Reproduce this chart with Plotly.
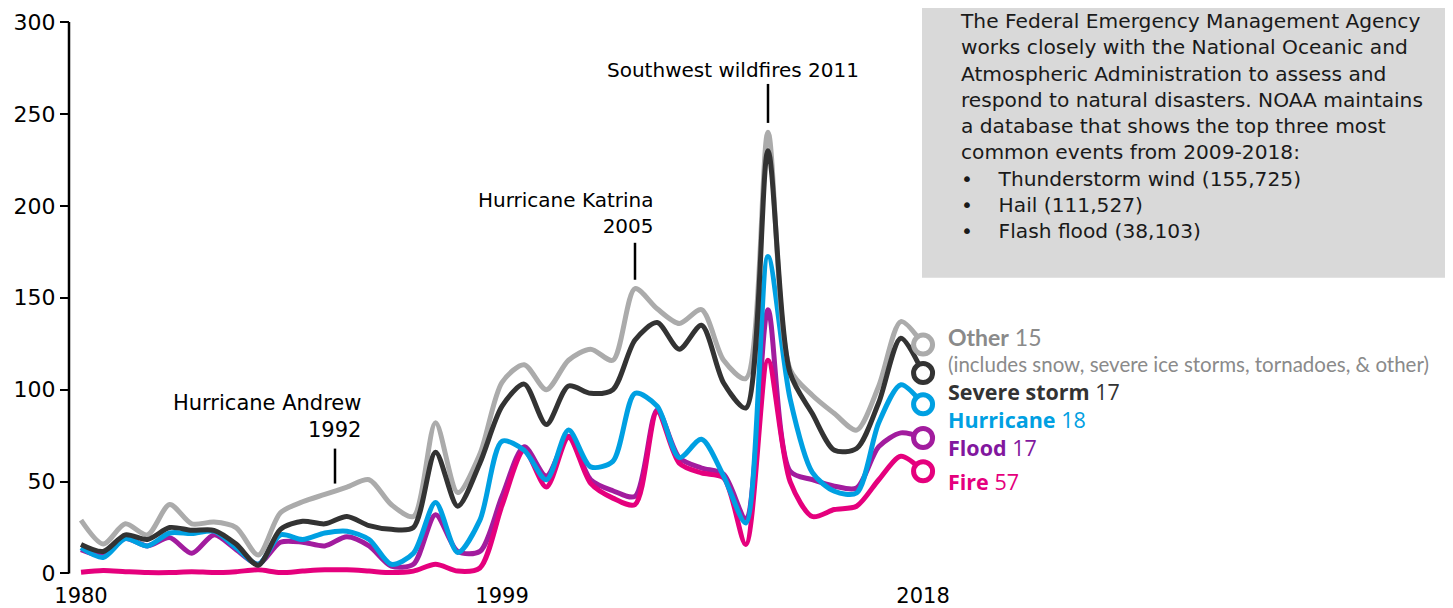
import plotly.graph_objects as go

years = list(range(1980, 2019))

other = [29, 16, 27, 21, 37.5, 27, 28, 25, 10, 33, 39, 43, 47, 51, 37.5, 31, 82, 44, 65, 104,
         113.6, 100, 116, 122, 116, 155, 144, 136, 143.5, 116, 106, 240, 111, 97, 87, 78, 102, 137, 124.5]
severe = [15.8, 12, 21, 18.5, 25, 23.5, 23.5, 16, 4.5, 24, 28.4, 27, 31, 26, 24, 25, 66, 36.6, 60, 91,
          103, 81, 102, 98, 100, 127, 136.5, 122, 135, 103.6, 90, 230, 109, 87, 67, 68, 93, 128, 109]
hurricane = [14, 8.7, 19, 15, 22, 21.7, 23, 14, 5, 21, 18.5, 22, 23, 18.5, 5, 11, 38.6, 11.4, 29, 72,
             67, 51, 78, 58, 61, 98, 91, 63, 73, 53, 27.5, 172.5, 95, 55, 44.7, 43.8, 82, 102.7, 92]
flood = [13, 10, 19, 15, 19.5, 11, 21, 13, 5, 17, 17, 15, 20, 15, 4, 5, 32, 12, 12, 42,
         69, 53, 74.6, 51, 45, 42, 89, 63, 57.4, 54, 30, 143.5, 55.6, 51, 47.5, 46.5, 69, 76.5, 73.7]
fire = [0.7, 1.6, 1, 0.5, 0.5, 1, 0.5, 1, 2, 0.5, 1.3, 2, 2, 1.3, 0.5, 1.3, 5, 1.3, 3, 37,
        67, 47, 74, 49, 41, 37.5, 88, 60, 54.7, 52, 15.8, 116, 50, 31, 34.8, 36.6, 51, 63.8, 55.6]

y_ticks = [0, 50, 100, 150, 200, 250, 300]
x_ticks = [1980, 1999, 2018]

GRAY = "#ABABAB"
DARK = "#333333"
BLUE = "#00A0E2"
PURPLE = "#A21C9E"
PINK = "#E5007D"

legend_items = [
    ("Severe storm", "17", "#333333"),
    ("Hurricane", "18", "#00A0E2"),
    ("Flood", "17", "#82179E"),
    ("Fire", "57", "#E5007D"),
]
other_label = ("Other", "15", "(includes snow, severe ice storms, tornadoes, &amp; other)", "#8A8A8A")

box_lines = [
    "The Federal Emergency Management Agency",
    "works closely with the National Oceanic and",
    "Atmospheric Administration to assess and",
    "respond to natural disasters. NOAA maintains",
    "a database that shows the top three most",
    "common events from 2009-2018:",
]
box_bullets = ["Thunderstorm wind (155,725)", "Hail (111,527)", "Flash flood (38,103)"]

fig = go.Figure()

draw_order = [(flood, PURPLE), (fire, PINK), (hurricane, BLUE), (other, GRAY), (severe, DARK)]
for vals, col in draw_order:
    fig.add_trace(go.Scatter(x=years, y=vals, mode="lines",
                             line=dict(color=col, width=5, shape="spline", smoothing=0.8),
                             hoverinfo="skip", showlegend=False))
for vals, col in draw_order:
    fig.add_trace(go.Scatter(x=[years[-1]], y=[vals[-1]], mode="markers",
                             marker=dict(size=19, color="white", line=dict(color=col, width=5)),
                             cliponaxis=False, hoverinfo="skip", showlegend=False))

# page body has an 8px margin: figure drawn 8px right/down of the window corner
OFF = 8
FIG_W, FIG_H = 1453 - OFF, 608 - OFF
# geometry in window pixels
PX_L, PX_R = 20, 940
PB, PT = 579.5, 22
X0, X1 = 1977.247, 2018.764

def px2yr(px):
    return X0 + (px - PX_L) / (PX_R - PX_L) * (X1 - X0)
def py2v(py):
    return (574 - py) / 1.84
def px2paper(px):
    return (px - PX_L) / (PX_R - PX_L)
def py2paper(py):
    return (PB - py) / (PB - PT)

yaxis_pos = px2paper(69)

shapes = [
    dict(type="line", xref="paper", yref="y", x0=yaxis_pos, x1=yaxis_pos, y0=0, y1=300,
         line=dict(color="black", width=2.5)),
    dict(type="rect", xref="paper", yref="paper", x0=px2paper(922), x1=px2paper(1470),
         y0=py2paper(278), y1=py2paper(-20), fillcolor="#D9D9D9", line=dict(width=0), layer="below"),
    dict(type="line", xref="x", yref="y", x0=px2yr(335), x1=px2yr(335), y0=py2v(449), y1=py2v(484),
         line=dict(color="black", width=2.5)),
    dict(type="line", xref="x", yref="y", x0=px2yr(635), x1=px2yr(635), y0=py2v(243), y1=py2v(280),
         line=dict(color="black", width=2.5)),
    dict(type="line", xref="x", yref="y", x0=px2yr(768), x1=px2yr(768), y0=py2v(84), y1=py2v(123),
         line=dict(color="black", width=2.5)),
]

ANN_FONT = dict(family="DejaVu Sans", size=20, color="black")
annotations = [
    dict(x=px2yr(363), y=py2v(417), xref="x", yref="y", text="Hurricane Andrew<br>1992",
         showarrow=False, xanchor="right", yanchor="middle", align="right",
         font=dict(family="DejaVu Sans", size=21, color="black")),
    dict(x=px2yr(656), y=py2v(213), xref="x", yref="y", text="Hurricane Katrina<br>2005",
         showarrow=False, xanchor="right", yanchor="middle", align="right", font=ANN_FONT),
    dict(x=px2yr(861), y=py2v(70), xref="x", yref="y", text="Southwest wildfires 2011",
         showarrow=False, xanchor="right", yanchor="middle", align="right", font=ANN_FONT),
]

# description box: one text block
NB = "\u00a0"
bullet_rows = ["•" + NB * 4 + b for b in box_bullets]
box_text = "<br>".join(box_lines + bullet_rows)
annotations.append(dict(x=px2paper(959), y=py2paper(126), xref="paper", yref="paper", text=box_text,
                        showarrow=False, xanchor="left", yanchor="middle", align="left",
                        borderpad=0,
                        font=dict(family="DejaVu Sans", size=20.2, color="#1a1a1a")))

# legend labels beside the end markers
name, num, note, col = other_label
annotations.append(dict(x=px2paper(947), y=py2paper(337), xref="paper", yref="paper",
                        text=f"<b>{name}</b> {num}", showarrow=False, xanchor="left",
                        yanchor="middle", align="left", borderpad=0,
                        font=dict(family="Lato", size=23, color=col)))
annotations.append(dict(x=px2paper(947), y=py2paper(364), xref="paper", yref="paper",
                        text=note, showarrow=False, xanchor="left",
                        yanchor="middle", align="left", borderpad=0,
                        font=dict(family="Lato", size=20.5, color=col)))
legend_y = [392, 420, 448, 482]
for (name, num, col), py in zip(legend_items, legend_y):
    annotations.append(dict(x=px2paper(947), y=py2paper(py), xref="paper", yref="paper",
                            text=f"<b>{name}</b> {num}", showarrow=False, xanchor="left",
                            yanchor="middle", align="left", borderpad=0,
                            font=dict(family="Open Sans", size=21.5, color=col)))
annotations.append(dict(x=px2paper(1445), y=py2paper(590), xref="paper", yref="paper", text="7",
                        showarrow=False, xanchor="left", yanchor="middle",
                        font=dict(family="DejaVu Sans", size=19, color="black")))

fig.update_layout(
    width=FIG_W, height=FIG_H,
    margin=dict(l=PX_L - OFF, r=FIG_W - (PX_R - OFF), t=PT - OFF, b=FIG_H - (PB - OFF),
                autoexpand=False),
    paper_bgcolor="white", plot_bgcolor="white",
    showlegend=False,
    xaxis=dict(range=[X0, X1], tickvals=x_ticks, ticktext=[str(v) for v in x_ticks],
               showgrid=False, zeroline=False, showline=False, ticks="", ticklabelstandoff=2,
               tickfont=dict(family="DejaVu Sans", size=21, color="black")),
    yaxis=dict(range=[-3, 300], tickvals=y_ticks, anchor="free", position=yaxis_pos,
               showgrid=False, zeroline=False, showline=False, ticks="outside", ticklen=9,
               tickwidth=2, tickcolor="black",
               tickfont=dict(family="DejaVu Sans", size=22, color="black")),
    shapes=shapes, annotations=annotations,
)

fig.write_html("out.html")
